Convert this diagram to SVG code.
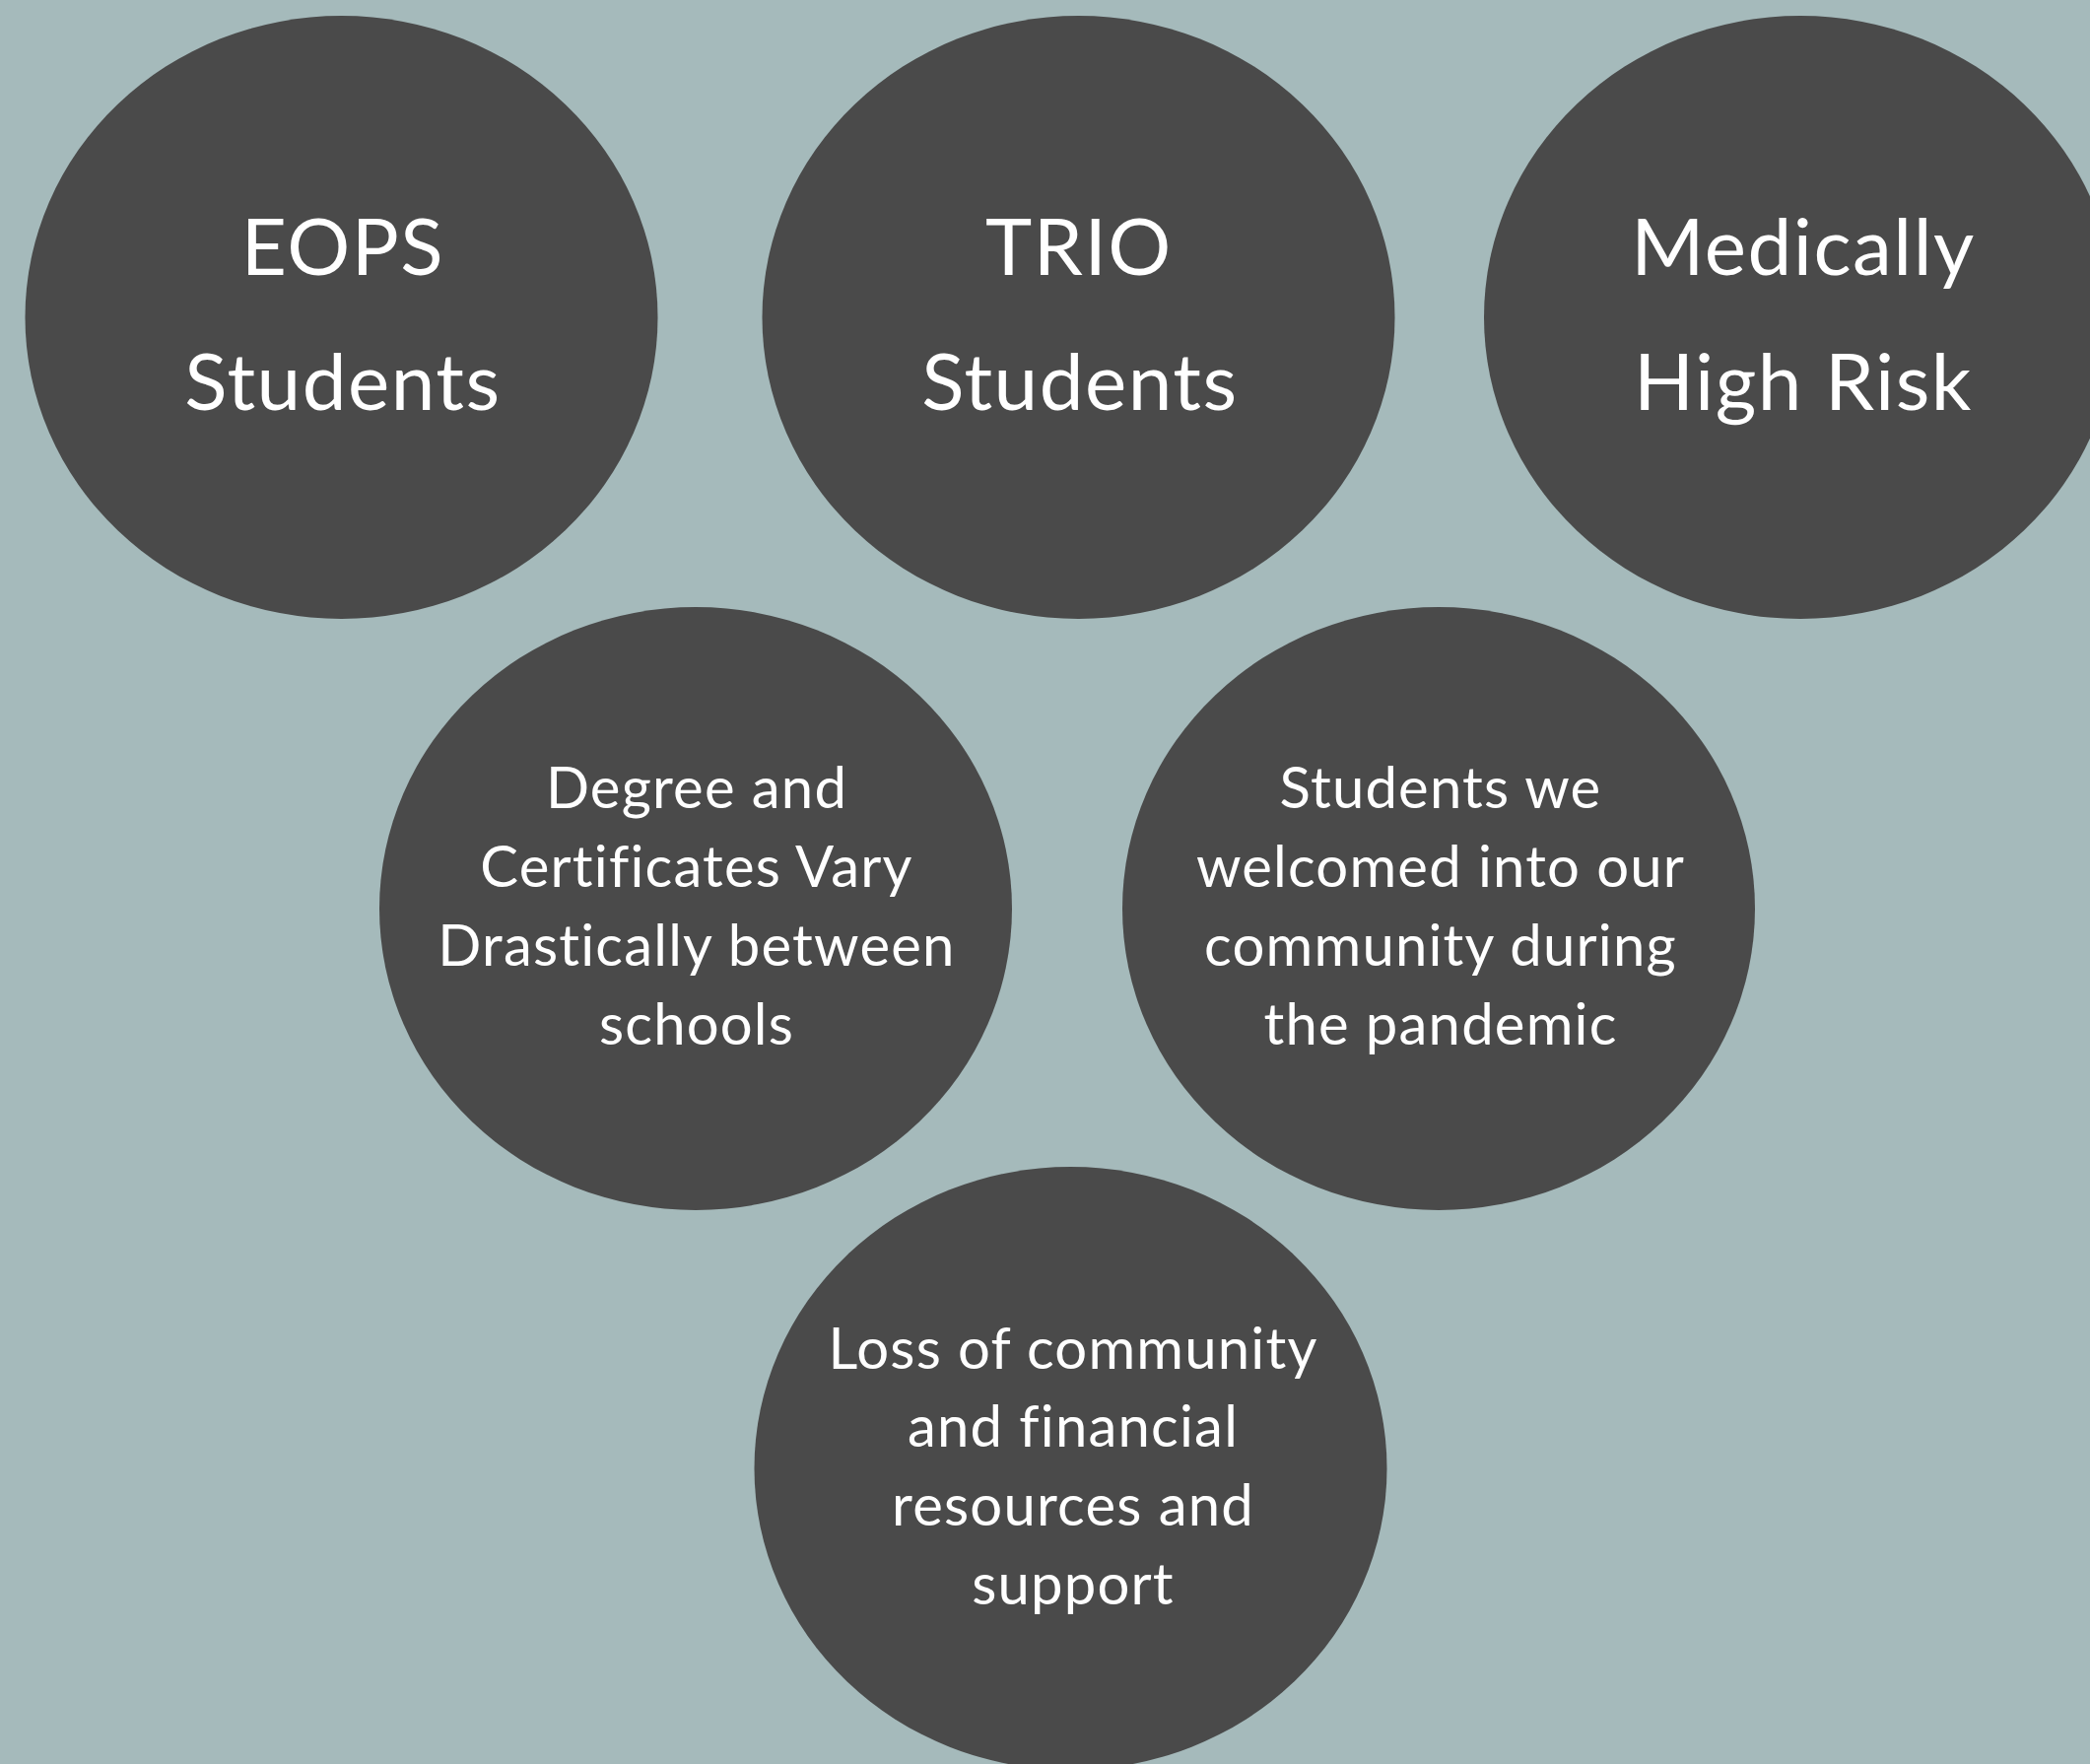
<svg xmlns="http://www.w3.org/2000/svg" width="2121" height="1790" viewBox="0 0 2121 1790">
<style>
.bg{fill:#A5BABB}
.node ellipse{fill:#4A4A4A}
.node text{fill:#FFFFFF;font-family:Lato,"Open Sans","Liberation Sans",sans-serif;text-anchor:middle}
.big{font-size:80px;letter-spacing:1.5px}
.small{font-size:58px;letter-spacing:1.2px}
</style>
<rect class="bg" x="0" y="0" width="2121" height="1790"/>
<g id="node-eops" class="node">
<ellipse cx="346.5" cy="322" rx="321" ry="306"/>
<text class="big"><tspan x="348" y="279">EOPS</tspan><tspan x="348" y="416">Students</tspan></text>
</g>
<g id="node-trio" class="node">
<ellipse cx="1094.5" cy="322" rx="321" ry="306"/>
<text class="big"><tspan x="1095" y="279">TRIO</tspan><tspan x="1096" y="416">Students</tspan></text>
</g>
<g id="node-medically" class="node">
<ellipse cx="1827" cy="322" rx="321" ry="306"/>
<text class="big"><tspan x="1830" y="279">Medically</tspan><tspan x="1830" y="416">High Risk</tspan></text>
</g>
<g id="node-degree" class="node">
<ellipse cx="706" cy="922" rx="321" ry="306"/>
<text class="small"><tspan x="707" y="820">Degree and</tspan><tspan x="707" y="900">Certificates Vary</tspan><tspan x="707" y="980">Drastically between</tspan><tspan x="707" y="1060">schools</tspan></text>
</g>
<g id="node-students-we" class="node">
<ellipse cx="1460" cy="922" rx="321" ry="306"/>
<text class="small"><tspan x="1462" y="820">Students we</tspan><tspan x="1462" y="900">welcomed into our</tspan><tspan x="1462" y="980">community during</tspan><tspan x="1462" y="1060">the pandemic</tspan></text>
</g>
<g id="node-loss" class="node">
<ellipse cx="1086.5" cy="1490" rx="321" ry="306"/>
<text class="small"><tspan x="1089" y="1389">Loss of community</tspan><tspan x="1089" y="1468">and financial</tspan><tspan x="1089" y="1548">resources and</tspan><tspan x="1089" y="1628">support</tspan></text>
</g>
<g id="connectors"/>
</svg>
